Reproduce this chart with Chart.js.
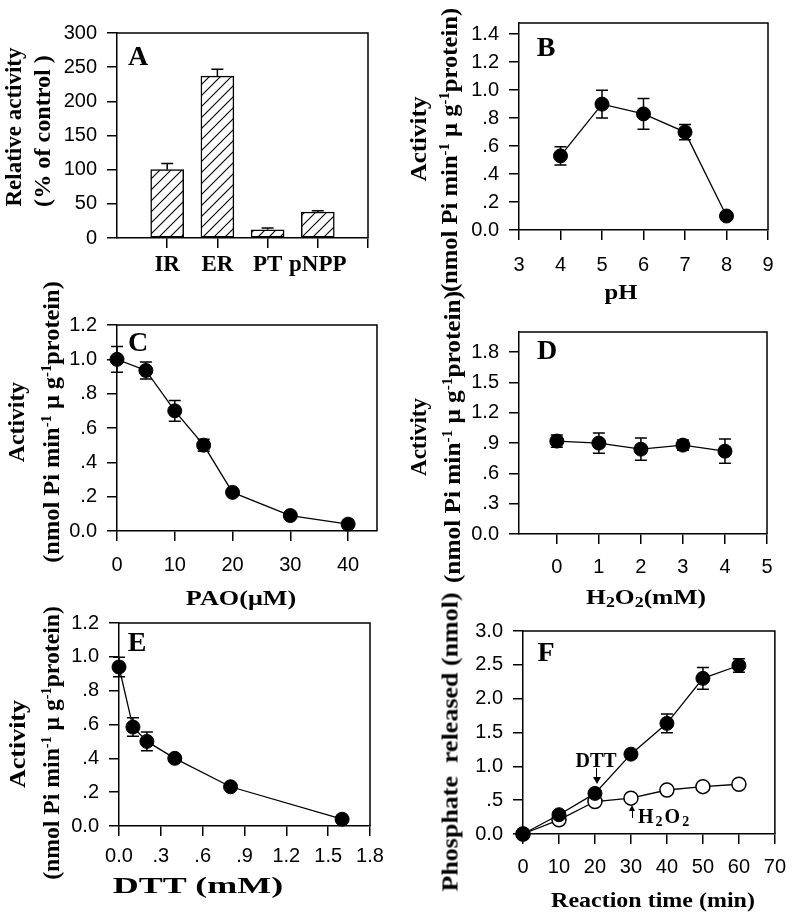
<!DOCTYPE html>
<html><head><meta charset="utf-8">
<script src="https://cdn.jsdelivr.net/npm/chart.js@4.4.1/dist/chart.umd.min.js"></script>
<style>
html,body{margin:0;padding:0;background:#fff;}
#fig{position:relative;width:797px;height:915px;overflow:hidden;background:#fff;}
canvas{position:absolute;}
.t{position:absolute;font-family:'Liberation Serif','Times New Roman',serif;font-weight:bold;color:#000;white-space:nowrap;line-height:1;}
.r{transform:translate(-50%,-50%) rotate(-90deg) scaleX(var(--s,1));}
.h{transform:translate(-50%,-50%) scaleX(var(--s,1));}
.t sup{font-size:0.6em;vertical-align:0.55em;line-height:0;}
.t sub{font-size:0.7em;vertical-align:-0.18em;line-height:0;}
.shaft{position:absolute;width:0;border-left:1.5px solid #000;}
.hd{position:absolute;width:0;height:0;border-left:4px solid transparent;border-right:4px solid transparent;}
</style></head>
<body><div id="fig">
<canvas id="cA" width="400" height="300" style="left:0;top:0"></canvas>
<canvas id="cB" width="397" height="300" style="left:400px;top:0"></canvas>
<canvas id="cC" width="400" height="300" style="left:0;top:300px"></canvas>
<canvas id="cD" width="397" height="300" style="left:400px;top:300px"></canvas>
<canvas id="cE" width="400" height="315" style="left:0;top:600px"></canvas>
<canvas id="cF" width="397" height="315" style="left:400px;top:600px"></canvas>

<!-- panel letters -->
<div class="t h" style="left:138px;top:56px;font-size:28px">A</div>
<div class="t h" style="left:546px;top:47px;font-size:28px">B</div>
<div class="t h" style="left:138px;top:342px;font-size:28px">C</div>
<div class="t h" style="left:547px;top:350px;font-size:28px">D</div>
<div class="t h" style="left:137px;top:642px;font-size:28px">E</div>
<div class="t h" style="left:546px;top:652px;font-size:28px">F</div>

<!-- y titles -->
<div class="t r" style="left:13px;top:127px;font-size:23px">Relative activity</div>
<div class="t r" style="left:42px;top:131px;font-size:23px;--s:1.05">(% of control )</div>

<div class="t r" style="left:418px;top:139px;font-size:23px;--s:1.09">Activity</div>
<div class="t r" style="left:449px;top:150px;font-size:23px;--s:1.07">(nmol Pi min<sup>-1</sup> μ g<sup>-1</sup>protein)</div>

<div class="t r" style="left:16px;top:422px;font-size:23px;--s:1.03">Activity</div>
<div class="t r" style="left:51px;top:422px;font-size:23px;--s:1.06">(nmol Pi min<sup>-1</sup> μ g<sup>-1</sup>protein)</div>

<div class="t r" style="left:418px;top:437px;font-size:23px;--s:1.0">Activity</div>
<div class="t r" style="left:452px;top:437px;font-size:23px;--s:1.1">(nmol Pi min<sup>-1</sup> μ g<sup>-1</sup>protein)</div>

<div class="t r" style="left:17px;top:744px;font-size:23px;--s:1.13">Activity</div>
<div class="t r" style="left:51px;top:743px;font-size:23px;--s:1.03">(nmol Pi min<sup>-1</sup> μ g<sup>-1</sup>protein)</div>

<div class="t r" style="left:450px;top:742px;font-size:23px;--s:1.13">Phosphate &nbsp;released (nmol)</div>

<!-- x titles -->
<div class="t h" style="left:621px;top:292px;font-size:22px;--s:1.12">pH</div>
<div class="t h" style="left:241px;top:598px;font-size:22px;--s:1.19">PAO(μM)</div>
<div class="t h" style="left:646px;top:597px;font-size:22px;--s:1.16">H<sub>2</sub>O<sub>2</sub>(mM)</div>
<div class="t h" style="left:198px;top:885px;font-size:24px;--s:1.5">DTT (mM)</div>
<div class="t h" style="left:653px;top:900px;font-size:22px;--s:1.09">Reaction time (min)</div>

<!-- F annotations -->
<div class="t h" style="left:596px;top:760px;font-size:20px">DTT</div>
<div class="shaft" style="left:596px;top:768px;height:10px"></div>
<div class="hd" style="left:593px;top:777px;border-top:7px solid #000"></div>
<div class="t" style="left:638px;top:806px;font-size:20px;letter-spacing:2px">H<sub>2</sub>O<sub>2</sub></div>
<div class="shaft" style="left:632px;top:811px;height:7px"></div>
<div class="hd" style="left:629px;top:805px;border-bottom:6px solid #000;border-left-width:3.5px;border-right-width:3.5px"></div>
</div>
<script>
// ---------------- data ----------------
const catLabels = ['IR', 'ER', 'PT', 'pNPP'];
const relActivity = [100, 237, 12, 38];
const relActivityErr = [9, 10, 2.5, 2];
const aXTicks = [1, 2, 3, 4, 5];
const aYTicks = [0, 50, 100, 150, 200, 250, 300];
const aYLabels = ['0', '50', '100', '150', '200', '250', '300'];

const phX = [4, 5, 6, 7, 8];
const phActivity = [0.53, 0.90, 0.83, 0.70, 0.10];
const phErr = [0.065, 0.10, 0.11, 0.055, 0.012];
const bXTicks = [3, 4, 5, 6, 7, 8, 9];
const bXLabels = ['3', '4', '5', '6', '7', '8', '9'];
const bYTicks = [0, 0.2, 0.4, 0.6, 0.8, 1.0, 1.2, 1.4];
const bYLabels = ['0.0', '.2', '.4', '.6', '.8', '1.0', '1.2', '1.4'];

const paoX = [0, 5, 10, 15, 20, 30, 40];
const paoActivity = [1.0, 0.935, 0.70, 0.50, 0.225, 0.09, 0.04];
const paoErr = [0.075, 0.05, 0.06, 0.035, 0.012, 0.01, 0.01];
const cXTicks = [0, 10, 20, 30, 40];
const cXLabels = ['0', '10', '20', '30', '40'];
const cYTicks = [0, 0.2, 0.4, 0.6, 0.8, 1.0, 1.2];
const cYLabels = ['0.0', '.2', '.4', '.6', '.8', '1.0', '1.2'];

const h2o2X = [0, 1, 2, 3, 4];
const h2o2Activity = [0.92, 0.90, 0.84, 0.88, 0.82];
const h2o2Err = [0.06, 0.10, 0.11, 0.05, 0.12];
const dXTicks = [0, 1, 2, 3, 4, 5];
const dXLabels = ['0', '1', '2', '3', '4', '5'];
const dYTicks = [0, 0.3, 0.6, 0.9, 1.2, 1.5, 1.8];
const dYLabels = ['0.0', '.3', '.6', '.9', '1.2', '1.5', '1.8'];

const dttX = [0, 0.1, 0.2, 0.4, 0.8, 1.6];
const dttActivity = [0.94, 0.585, 0.50, 0.40, 0.232, 0.04];
const dttErr = [0.057, 0.055, 0.055, 0.015, 0.01, 0.01];
const eXTicks = [0, 0.3, 0.6, 0.9, 1.2, 1.5, 1.8];
const eXLabels = ['0.0', '.3', '.6', '.9', '1.2', '1.5', '1.8'];
const eYTicks = [0, 0.2, 0.4, 0.6, 0.8, 1.0, 1.2];
const eYLabels = ['0.0', '.2', '.4', '.6', '.8', '1.0', '1.2'];

const timeX = [0, 10, 20, 30, 40, 50, 60];
const releasedDTT = [0, 0.285, 0.60, 1.18, 1.635, 2.30, 2.49];
const releasedDTTErr = [0.02, 0.05, 0.05, 0.05, 0.14, 0.16, 0.10];
const releasedH2O2 = [0, 0.21, 0.48, 0.53, 0.65, 0.70, 0.735];
const releasedH2O2Err = [0, 0.02, 0.03, 0.03, 0.05, 0.03, 0.03];
const fXTicks = [0, 10, 20, 30, 40, 50, 60, 70];
const fXLabels = ['0', '10', '20', '30', '40', '50', '60', '70'];
const fYTicks = [0, 0.5, 1.0, 1.5, 2.0, 2.5, 3.0];
const fYLabels = ['0.0', '.5', '1.0', '1.5', '2.0', '2.5', '3.0'];

// ---------------- helpers ----------------
Chart.defaults.font.family = "'Liberation Sans', Arial, sans-serif";
Chart.defaults.color = '#000';

const framePlugin = {
  id: 'frame',
  afterDraw(chart) {
    const {ctx, chartArea: a} = chart;
    ctx.save();
    ctx.strokeStyle = '#000';
    ctx.lineWidth = 1.5;
    ctx.beginPath();
    ctx.moveTo(a.left, a.top); ctx.lineTo(a.right, a.top); ctx.lineTo(a.right, a.bottom);
    ctx.stroke();
    ctx.restore();
  }
};

function drawErr(chart, wantBar) {
  const ctx = chart.ctx, ys = chart.scales.y;
  chart.data.datasets.forEach((ds, i) => {
    if (!ds.errors) return;
    const meta = chart.getDatasetMeta(i);
    if ((meta.type === 'bar') !== wantBar) return;
    meta.data.forEach((el, j) => {
      const e = ds.errors[j];
      if (!e) return;
      const v = ds.data[j].y;
      const x = el.x;
      const yt = ys.getPixelForValue(v + e);
      const yb = wantBar ? el.y : ys.getPixelForValue(v - e);
      ctx.save();
      ctx.strokeStyle = '#000';
      ctx.lineWidth = 1.5;
      ctx.beginPath();
      ctx.moveTo(x, yt); ctx.lineTo(x, yb);
      ctx.moveTo(x - 6, yt); ctx.lineTo(x + 6, yt);
      if (!wantBar) { ctx.moveTo(x - 6, yb); ctx.lineTo(x + 6, yb); }
      ctx.stroke();
      ctx.restore();
    });
  });
}
const errorBarPlugin = {
  id: 'errbars',
  beforeDatasetsDraw(chart) { drawErr(chart, false); },
  afterDatasetsDraw(chart) { drawErr(chart, true); }
};

function axis(pos, min, max, ticks, labelFn, size, opt = {}) {
  return {
    type: 'linear', position: pos, min, max, offset: false,
    afterBuildTicks(s) { s.ticks = ticks.map(v => ({value: v})); },
    afterFit(s) { if (pos === 'left') s.width = size; else s.height = size; },
    grid: {drawOnChartArea: false, offset: false, tickLength: 10, color: '#000', lineWidth: 1.5},
    border: {color: '#000', width: 1.5},
    ticks: {
      color: '#000', padding: opt.padding ?? 10, autoSkip: false, maxRotation: 0,
      font: opt.font || {size: 20}, callback: labelFn
    }
  };
}
const lab = (ticks, labels) => v => labels[ticks.indexOf(v)];
const pts = (xs, ys) => xs.map((x, i) => ({x, y: ys[i]}));

const lineStyle = {
  borderColor: '#000', borderWidth: 1.3, pointRadius: 7, pointHoverRadius: 7,
  pointBackgroundColor: '#000', pointBorderColor: '#000', pointBorderWidth: 1,
  tension: 0, clip: false, fill: false
};

function make(id, type, datasets, xs, ys, pad) {
  return new Chart(document.getElementById(id), {
    type, data: {datasets},
    options: {
      responsive: false, animation: false, events: [],
      layout: {padding: pad},
      plugins: {legend: {display: false}, tooltip: {enabled: false}},
      scales: {x: xs, y: ys}
    },
    plugins: [framePlugin, errorBarPlugin]
  });
}

function hatch() {
  const n = 11;
  const c = document.createElement('canvas'); c.width = n; c.height = n;
  const g = c.getContext('2d');
  g.fillStyle = '#fff'; g.fillRect(0, 0, n, n);
  g.strokeStyle = '#000'; g.lineWidth = 1.1;
  g.beginPath();
  g.moveTo(0, n); g.lineTo(n, 0);
  g.moveTo(-n / 2, n / 2); g.lineTo(n / 2, -n / 2);
  g.moveTo(n / 2, n * 1.5); g.lineTo(n * 1.5, n / 2);
  g.stroke();
  return g.createPattern(c, 'repeat');
}

// ---------------- A ----------------
make('cA', 'bar', [{
  data: catLabels.map((c, i) => ({x: i + 1, y: relActivity[i]})),
  errors: relActivityErr,
  backgroundColor: hatch(), borderColor: '#000', borderWidth: 1.5, borderSkipped: false,
  barThickness: 33
}],
  axis('bottom', 0, 5, aXTicks, v => catLabels[v - 1] ?? '', 62,
    {padding: 3, font: {family: "'Liberation Serif', 'Times New Roman', serif", size: 23, weight: 'bold'}}),
  axis('left', 0, 300, aYTicks, lab(aYTicks, aYLabels), 117),
  {top: 33, right: 32, left: 0, bottom: 0});

// ---------------- B ----------------
make('cB', 'line', [Object.assign({data: pts(phX, phActivity), errors: phErr}, lineStyle)],
  axis('bottom', 3, 9, bXTicks, lab(bXTicks, bXLabels), 70, {padding: 13}),
  axis('left', 0, 1.48, bYTicks, lab(bYTicks, bYLabels), 119),
  {top: 23, right: 29, left: 0, bottom: 0});

// ---------------- C ----------------
make('cC', 'line', [Object.assign({data: pts(paoX, paoActivity), errors: paoErr}, lineStyle)],
  axis('bottom', 0, 45, cXTicks, lab(cXTicks, cXLabels), 69, {padding: 12}),
  axis('left', 0, 1.2, cYTicks, lab(cYTicks, cYLabels), 117),
  {top: 25, right: 23, left: 0, bottom: 0});

// ---------------- D ----------------
make('cD', 'line', [Object.assign({data: pts(h2o2X, h2o2Activity), errors: h2o2Err}, lineStyle)],
  axis('bottom', -0.9, 5, dXTicks, lab(dXTicks, dXLabels), 66, {padding: 11}),
  axis('left', 0, 2.0, dYTicks, lab(dYTicks, dYLabels), 119),
  {top: 32, right: 30, left: 0, bottom: 0});

// ---------------- E ----------------
make('cE', 'line', [Object.assign({data: pts(dttX, dttActivity), errors: dttErr}, lineStyle)],
  axis('bottom', 0, 1.8, eXTicks, lab(eXTicks, eXLabels), 89, {padding: 8}),
  axis('left', 0, 1.2, eYTicks, lab(eYTicks, eYLabels), 119),
  {top: 23, right: 30, left: 0, bottom: 0});

// ---------------- F ----------------
make('cF', 'line', [
  Object.assign({data: pts(timeX, releasedDTT), errors: releasedDTTErr}, lineStyle),
  Object.assign({data: pts(timeX, releasedH2O2), errors: releasedH2O2Err}, lineStyle,
    {pointBackgroundColor: '#fff', pointBorderWidth: 1.5})
],
  axis('bottom', 0, 70, fXTicks, lab(fXTicks, fXLabels), 81, {padding: 11}),
  axis('left', 0, 3.0, fYTicks, lab(fYTicks, fYLabels), 123),
  {top: 31, right: 13, left: 0, bottom: 0});
</script>
</body></html>
